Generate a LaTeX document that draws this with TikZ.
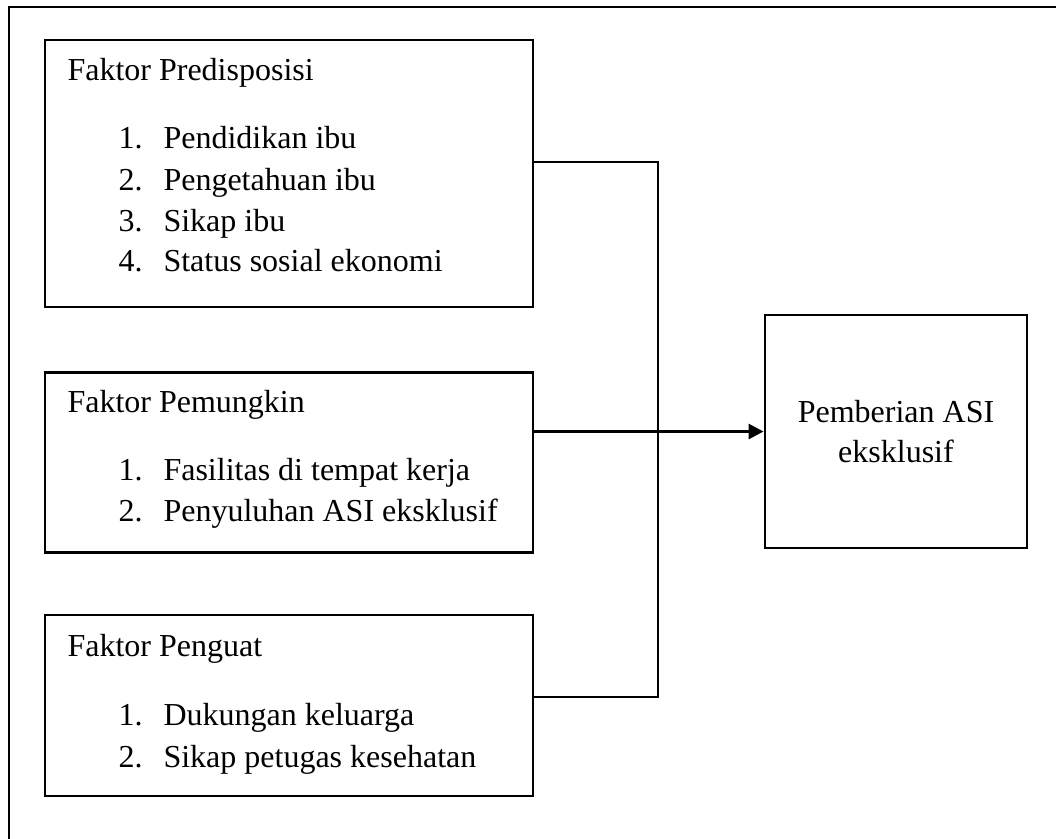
\documentclass[tikz,border=0pt]{standalone}
\usepackage{fontspec}
\setmainfont{Liberation Serif}
\usetikzlibrary{arrows.meta, positioning}

\begin{document}
\begin{tikzpicture}[x=0.375pt, y=-0.375pt,
    box/.style={rectangle, draw=black, line width=1.1pt, inner sep=0pt},
    txt/.style={anchor=base west, inner sep=0pt, font=\fontsize{12}{15}\selectfont},
    link/.style={line width=1.1pt}
]
\useasboundingbox (0,0) rectangle (1056,838);
\clip (0,0) rectangle (1056,838);
% outer frame (only top and left edge inside the page)
\draw[line width=1pt] (9,7) rectangle (1080,860);

% factor boxes
\node[box, minimum width=183pt, minimum height=100.125pt] (pre) at (289,173.5) {};
\node[box, minimum width=183pt, minimum height=67.5pt] (pem) at (289,462.5) {};
\node[box, minimum width=183pt, minimum height=67.875pt] (pen) at (289,705.5) {};
\node[box, minimum width=98.25pt, minimum height=87.375pt, align=center,
      font=\fontsize{12}{15}\selectfont] (asi) at (896,431.5)
      {Pemberian ASI\\eksklusif};

% texts
\node[txt] (preT) at (67,80) {Faktor Predisposisi};
\foreach \n/\y/\s in {1/148/Pendidikan ibu, 2/190/Pengetahuan ibu,
                      3/231/Sikap ibu, 4/271/Status sosial ekonomi}{
  \node[txt] (preN\n) at (118,\y) {\n.};
  \node[txt] (preI\n) at (163,\y) {\s};
}
\node[txt] (pemT) at (67,412) {Faktor Pemungkin};
\foreach \n/\y/\s in {1/480/Fasilitas di tempat kerja, 2/521/Penyuluhan ASI eksklusif}{
  \node[txt] (pemN\n) at (118,\y) {\n.};
  \node[txt] (pemI\n) at (163,\y) {\s};
}
\node[txt] (penT) at (67,656) {Faktor Penguat};
\foreach \n/\y/\s in {1/725/Dukungan keluarga, 2/767/Sikap petugas kesehatan}{
  \node[txt] (penN\n) at (118,\y) {\n.};
  \node[txt] (penI\n) at (163,\y) {\s};
}

% connectors
\coordinate (j1) at (658,162);
\coordinate (j3) at (658,697);
\draw[link] (pre.east |- j1) -- (j1) -- (j3) -- (pen.east |- j3);
\draw[link, -{Triangle[length=5.6pt, width=5.6pt]}] (pem.east |- asi.west) -- (asi.west);
\end{tikzpicture}
\end{document}
